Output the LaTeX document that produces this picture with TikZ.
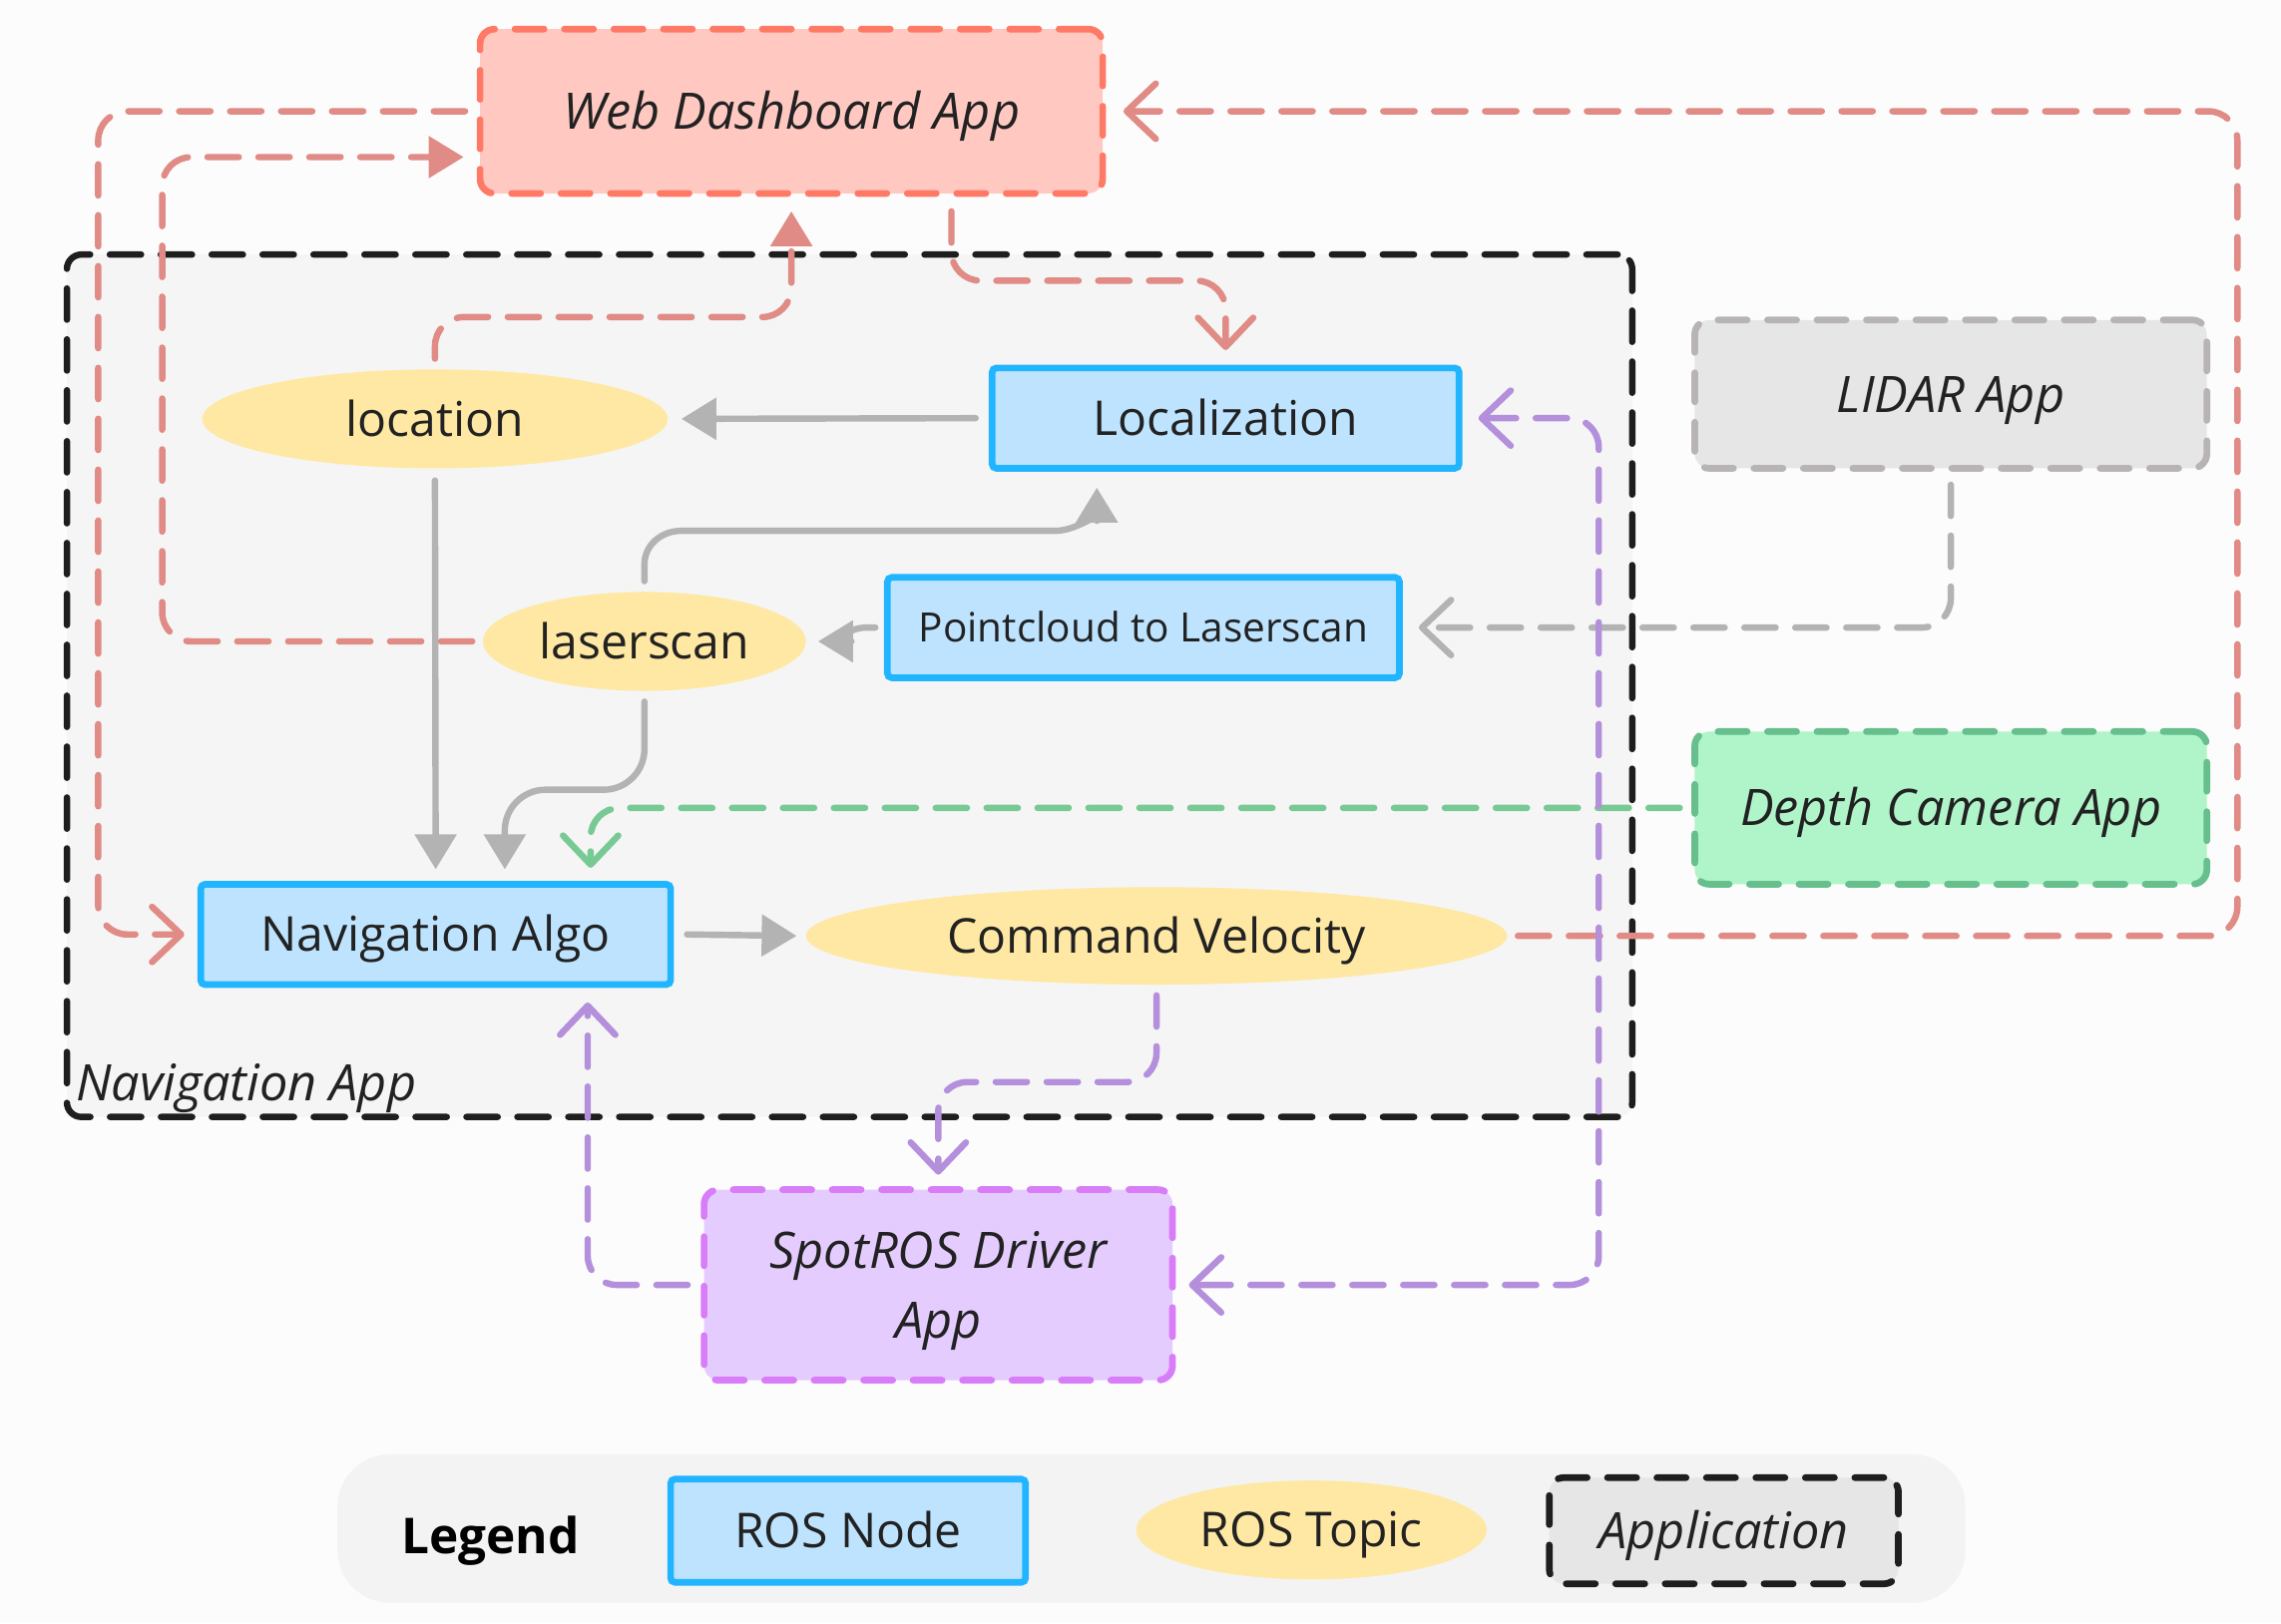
\documentclass[tikz,border=0pt]{standalone}
\usepackage{fontspec}
\setmainfont{Open Sans}
\usetikzlibrary{arrows.meta,shapes.geometric}
\definecolor{bgcol}{HTML}{FCFCFC}
\definecolor{navfill}{HTML}{F5F5F5}
\definecolor{navborder}{HTML}{1E1E1E}
\definecolor{legendfill}{HTML}{F3F3F3}
\definecolor{webfill}{HTML}{FFC9C2}
\definecolor{webborder}{HTML}{FF7A66}
\definecolor{salmon}{HTML}{E08B85}
\definecolor{arrowgray}{HTML}{B3B3B3}
\definecolor{lidarfill}{HTML}{E6E6E6}
\definecolor{lidarborder}{HTML}{B8B4B4}
\definecolor{depthfill}{HTML}{AFF5C9}
\definecolor{depthborder}{HTML}{66BF8C}
\definecolor{greenline}{HTML}{78CA95}
\definecolor{purpline}{HTML}{B490DC}
\definecolor{spotfill}{HTML}{E5CCFF}
\definecolor{spotborder}{HTML}{D87CF7}
\definecolor{nodeblue}{HTML}{22B5FF}
\definecolor{nodefill}{HTML}{BDE3FE}
\definecolor{topicfill}{HTML}{FFE8A3}
\definecolor{textcol}{HTML}{222222}
\begin{document}
\begin{tikzpicture}[x=0.5pt,y=-0.5pt,
  lbl/.style={font=\fontsize{16.5}{24}\selectfont, text=textcol, text height=14pt, text depth=2.2pt},
  itlbl/.style={lbl, font=\fontsize{17.3}{24}\selectfont\itshape, text height=14.5pt, text depth=2.15pt},
  appbox/.style={itlbl, rounded corners=5pt, dash pattern=on 10pt off 7pt, line width=2.3pt, line cap=round, inner sep=0pt, align=center},
  rosnode/.style={lbl, draw=nodeblue, fill=nodefill, line width=2.3pt, rounded corners=1.5pt, inner sep=0pt},
  topic/.style={lbl, ellipse, fill=topicfill, inner sep=0pt},
  conn/.style={line width=2.2pt, line cap=round, dash pattern=on 10.75pt off 6.75pt, rounded corners=10pt},
  salconn/.style={conn, draw=salmon},
  grayconn/.style={conn, draw=arrowgray},
  greenconn/.style={conn, draw=greenline},
  purpconn/.style={conn, draw=purpline},
  solidconn/.style={line width=2.2pt, line cap=round, draw=arrowgray},
  tipfill/.style={-{Triangle[length=12pt,width=14pt]}},
  tipopen/.style={-{Straight Barb[length=10pt,width=19pt,round]}},
  tipboth/.style={{Straight Barb[length=10pt,width=19pt,round]}-{Straight Barb[length=10pt,width=19pt,round]}}
]
% background
\fill[bgcol] (0,0) rectangle (1568,1116);
\useasboundingbox (0,0) rectangle (1568,1116);

% containers
\node[draw=navborder, fill=navfill, line width=2.2pt, dash pattern=on 10.75pt off 6.75pt, line cap=round, rounded corners=5pt, minimum width=538pt, minimum height=296.5pt, inner sep=0pt] (navapp) at (584,471.5) {};
\node[font=\fontsize{17.3}{24}\selectfont\itshape, text=textcol, anchor=base west, inner sep=0pt] (navapplbl) at ([xshift=4pt,yshift=6.5pt]navapp.south west) {Navigation App};
\node[fill=legendfill, rounded corners=18pt, minimum width=559.5pt, minimum height=51pt, inner sep=0pt] (legendbg) at (791.5,1051) {};

% application boxes
\node[appbox, draw=webborder, fill=webfill, minimum width=214pt, minimum height=56.5pt] (web) at (544,76.5) {Web Dashboard App};
\node[appbox, draw=lidarborder, fill=lidarfill, minimum width=176pt, minimum height=51pt] (lidar) at (1341,271) {LIDAR App};
\node[appbox, draw=depthborder, fill=depthfill, minimum width=176pt, minimum height=52.5pt] (depth) at (1341,555.5) {Depth Camera App};
\node[appbox, draw=spotborder, fill=spotfill, minimum width=161pt, minimum height=65.5pt, text height=38.5pt, text depth=2.15pt] (spot) at (645,883.5) {SpotROS Driver\\App};

% ROS nodes
\node[rosnode, minimum width=160.5pt, minimum height=34.5pt] (loc) at (842.5,287.5) {Localization};
\node[rosnode, font=\fontsize{13.9}{16}\selectfont, text height=12pt, text depth=2.1pt, minimum width=176pt, minimum height=34.5pt] (pc) at (786,431.5) {Pointcloud to Laserscan};
\node[rosnode, minimum width=161.5pt, minimum height=34.5pt] (nav) at (299.5,642.5) {Navigation Algo};

% topics
\node[topic, minimum width=160pt, minimum height=34pt] (location) at (299,288) {location};
\node[topic, minimum width=111pt, minimum height=34pt] (laserscan) at (443,441) {laserscan};
\node[topic, minimum width=241pt, minimum height=33.5pt] (cmdvel) at (795,643.5) {Command Velocity};

% legend
\node[lbl, font=\fontsize{17}{24}\selectfont\bfseries, text=black, text height=14.3pt, text depth=2.2pt] (legendtitle) at (337,1056) {Legend};
\node[rosnode, minimum width=122pt, minimum height=35.5pt] (legnode) at (583,1052.5) {ROS Node};
\node[topic, minimum width=120.5pt, minimum height=34pt] (legtopic) at (901.5,1052) {ROS Topic};
\node[appbox, draw=navborder, fill=lidarfill, minimum width=120pt, minimum height=36.5pt] (legapp) at (1185,1052.5) {Application};

% solid gray connectors
\draw[solidconn, tipfill] ([xshift=-4.5pt]loc.west) -- ([xshift=4.5pt]location.east);
\draw[solidconn, tipfill] ([yshift=-4pt]location.south) -- ([yshift=4pt]nav.north);
\draw[solidconn, tipfill] ([yshift=3.5pt]laserscan.north) -- (443,388) to[out=90,in=180] (468,365) -- (725,365) to[out=0,in=-90] ([xshift=-44.25pt,yshift=-5.5pt]loc.south);
\draw[solidconn, tipfill] ([xshift=-3pt]pc.west) -- ++(-6,0) to[out=180,in=0] ([xshift=4pt]laserscan.east);
\draw[solidconn, tipfill, rounded corners=14pt] ([yshift=-3.5pt]laserscan.south) |- (347,543) -- ([xshift=23.75pt,yshift=4pt]nav.north);
\draw[solidconn, tipfill] ([xshift=4.5pt]nav.east) -- ([xshift=-3pt]cmdvel.west);

% salmon connectors
\draw[salconn, tipopen] ([xshift=55pt,yshift=-5pt]web.south) |- (842.5,193) -- ([yshift=5pt]loc.north);
\draw[salconn, tipfill] ([yshift=3.5pt]location.north) |- (544,218) -- ([yshift=-5pt]web.south);
\draw[salconn, tipfill] ([xshift=-3.5pt]laserscan.west) -| (111.5,108) -- ([xshift=-4.5pt,yshift=-15.75pt]web.west);
\draw[salconn, tipopen] ([xshift=-4pt]web.west) -| (67.5,642.5) -- ([xshift=-4.5pt]nav.west);
\draw[salconn, tipopen] ([xshift=3.5pt]cmdvel.east) -| (1538,76.5) -- ([xshift=6pt]web.east);

% gray dashed
\draw[grayconn, tipopen] ([yshift=-4.5pt]lidar.south) |- ([xshift=5.5pt]pc.east);
% green
\draw[greenconn, tipopen] ([xshift=-4pt]depth.west) -| ([xshift=53.25pt,yshift=4.5pt]nav.north);
% purple
\draw[purpconn, tipopen] ([yshift=-3.5pt]cmdvel.south) |- (645,744) -- ([yshift=4pt]spot.north);
\draw[purpconn, tipopen] ([xshift=-4.5pt]spot.west) -| ([xshift=52.25pt,yshift=-5pt]nav.south);
\draw[purpconn, tipboth] ([xshift=5.5pt]loc.east) -| (1099,600) |- ([xshift=4.5pt]spot.east);
\end{tikzpicture}
\end{document}
